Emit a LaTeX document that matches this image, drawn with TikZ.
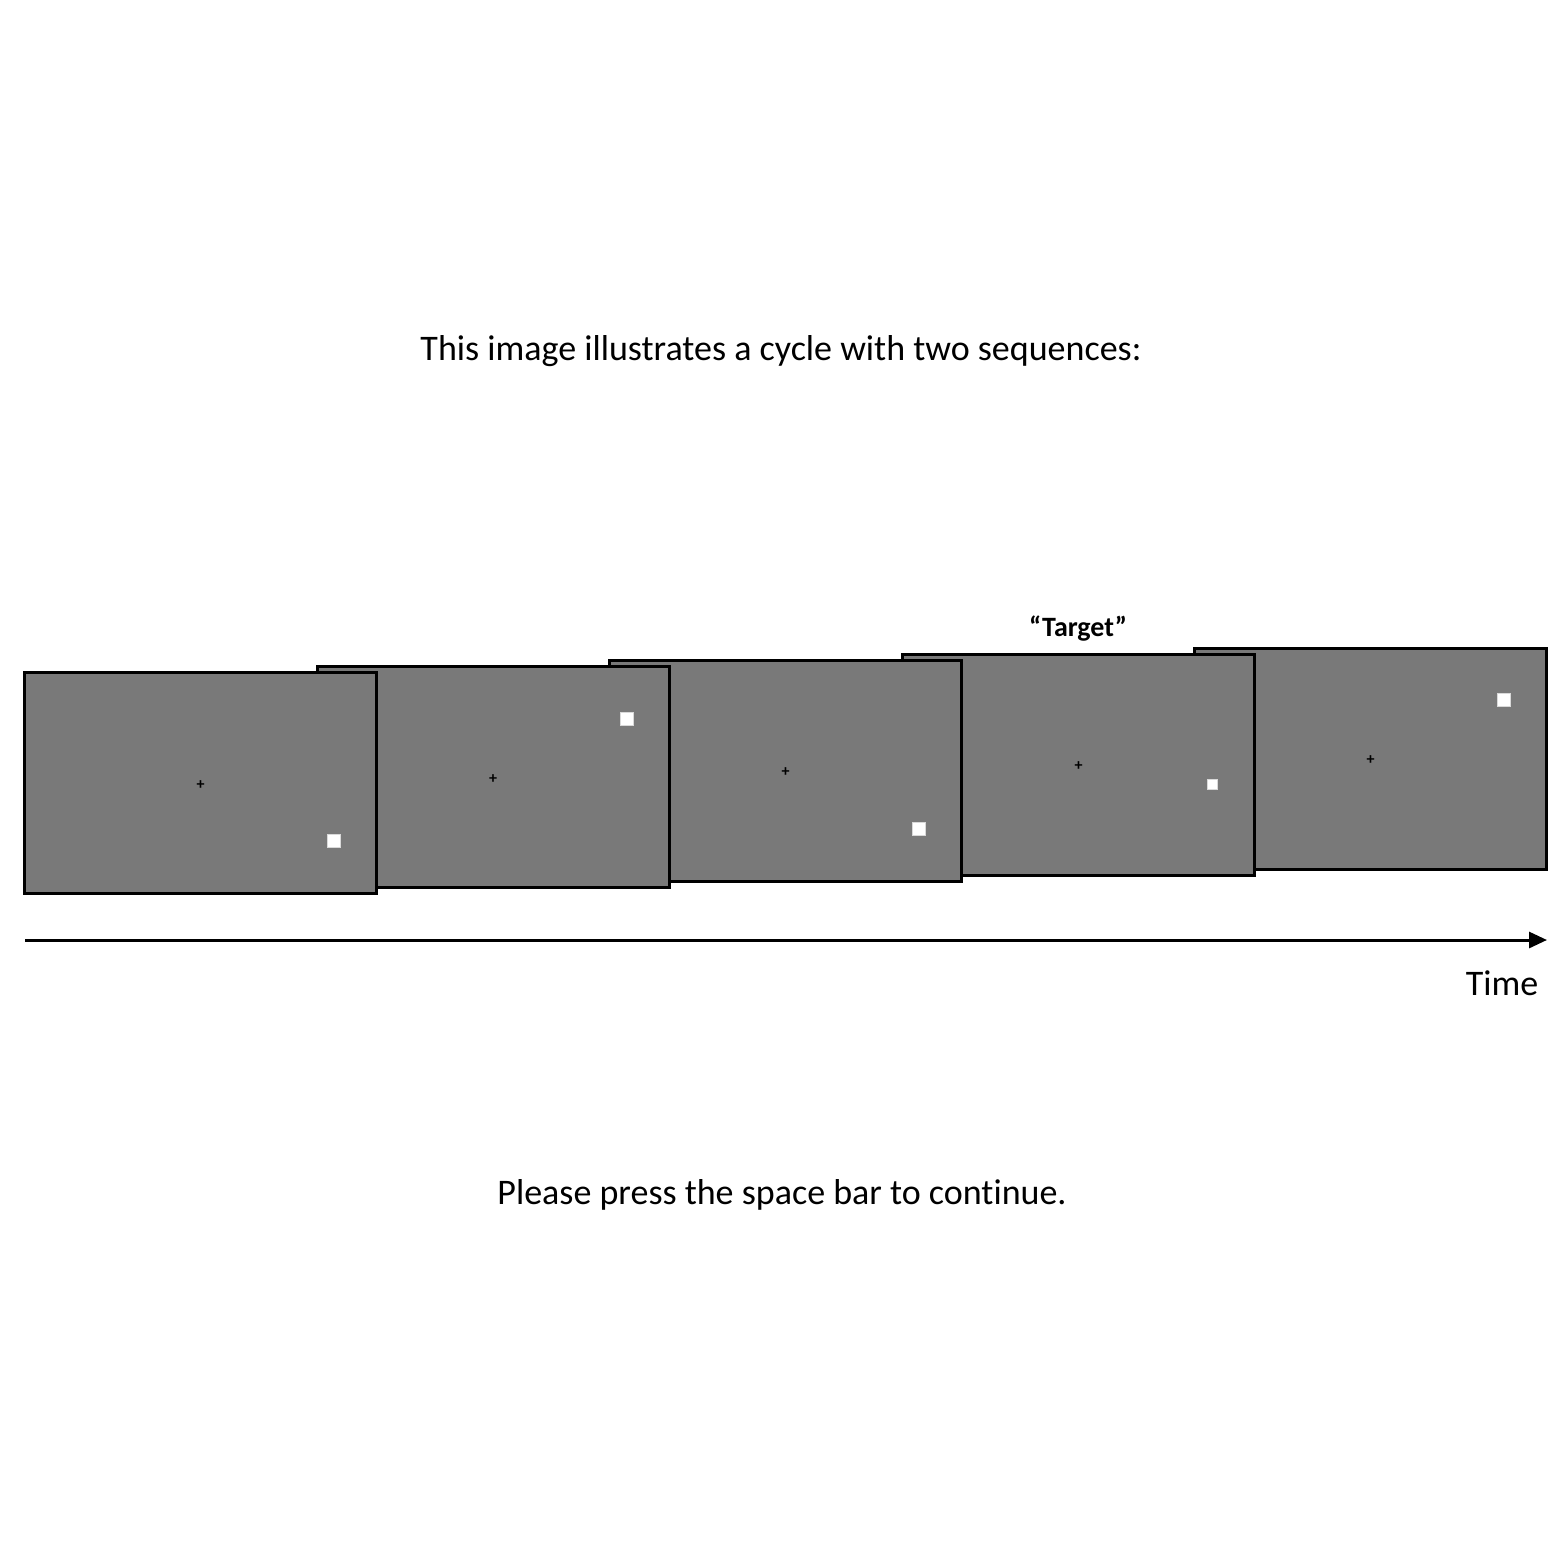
\documentclass[tikz,border=0pt]{standalone}
\usepackage{fontspec}
\setmainfont{Carlito}[Ligatures=NoCommon]
\usetikzlibrary{positioning, arrows.meta}
\definecolor{screengray}{RGB}{121,121,121}

\begin{document}
\begin{tikzpicture}[x=0.5pt,y=-0.5pt,
    screen/.style={draw=black,line width=1.5pt,fill=screengray,
        minimum width=176pt,minimum height=110.5pt,inner sep=0pt},
    dot/.style={fill=white,draw=white!85!black,line width=0.3pt,
        minimum size=6.5pt,inner sep=0pt},
    fix/.style={font=\fontsize{8}{8}\selectfont\bfseries,inner sep=0pt,yshift=-1pt},
    caption/.style={font=\fontsize{18}{22}\selectfont}]
    \useasboundingbox (0,0) rectangle (1568,1568);

    % screens, last one at the back
    \node[screen] (s5) at (1370.5,758.5) {};
    \node[screen] (s4) at (1078.5,764.5) {};
    \node[screen] (s3) at (785.5,770.5) {};
    \node[screen] (s2) at (493,777) {};
    \node[screen] (s1) at (200.5,783) {};

    % fixation crosses
    \node[fix] (f1) at (s1.center) {+};
    \node[fix] (f2) at (s2.center) {+};
    \node[fix] (f3) at (s3.center) {+};
    \node[fix] (f4) at (s4.center) {+};
    \node[fix] (f5) at (s5.center) {+};

    % probes
    \node[dot] (d1) at ([shift={(133.5,58)}]s1.center) {};
    \node[dot] (d2) at ([shift={(134,-58)}]s2.center) {};
    \node[dot] (d3) at ([shift={(133.5,58.5)}]s3.center) {};
    \node[dot,minimum size=5pt] (d4) at ([shift={(133.5,19.5)}]s4.center) {};
    \node[dot] (d5) at ([shift={(133.5,-58.5)}]s5.center) {};

    \node[font=\fontsize{14}{16}\selectfont\bfseries] (target) at (1078,629) {“Target”};

    % time axis
    \coordinate (t0) at (25,940);
    \coordinate (t1) at (1547,940);
    \draw[line width=1.5pt,-{Triangle[length=9pt,width=8pt]}] (t0) -- (t1);
    \node[caption] (time) at (1502,983) {Time};

    \node[caption] (title) at (781,351) {This image illustrates a cycle with two sequences:};
    \node[caption] (prompt) at (782,1195) {Please press the space bar to continue.};
\end{tikzpicture}
\end{document}
